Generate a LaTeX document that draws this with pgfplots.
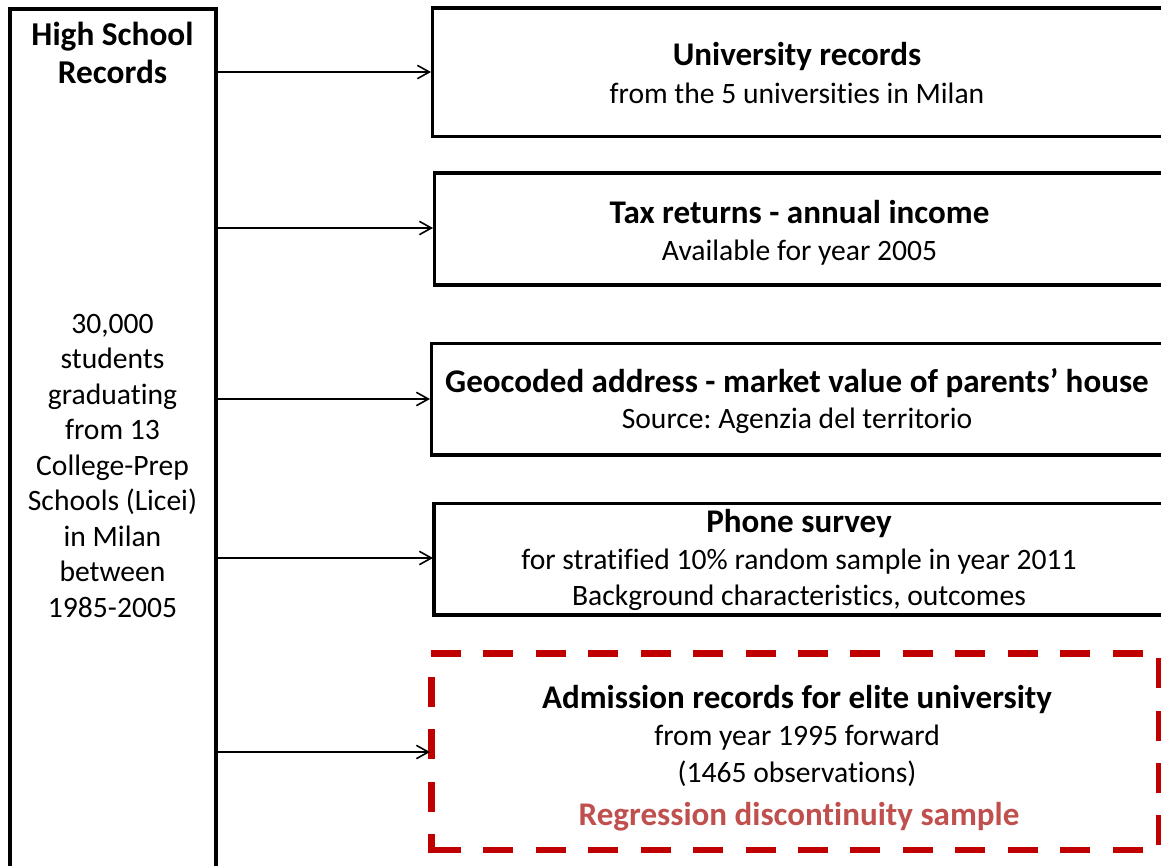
\documentclass[border=0pt]{standalone}
\usepackage{pgfplots}
\pgfplotsset{compat=1.18}
\usetikzlibrary{arrows.meta}
\usepackage{fontspec}
\setmainfont{Carlito}[RawFeature={-liga;-dlig;-clig}]
\frenchspacing
\definecolor{dred}{HTML}{C00000}
\definecolor{tred}{HTML}{C0504D}
\begin{document}
\begin{tikzpicture}
\begin{axis}[width=870.75pt, height=648.75pt, scale only axis,
  xmin=0, xmax=1161, ymin=0, ymax=865, y dir=reverse,
  hide axis, clip=true, clip mode=individual]
% left box
\addplot[black, line width=2.5pt, mark=none, line join=miter] coordinates {(10,900) (10,9) (216,9) (216,900)};
% right boxes
\addplot[black, line width=2.5pt, mark=none, line join=miter] coordinates {(1180,8) (432.5,8) (432.5,136.5) (1180,136.5)};
\addplot[black, line width=2.5pt, mark=none, line join=miter] coordinates {(1180,173) (434.5,173) (434.5,285) (1180,285)};
\addplot[black, line width=2.5pt, mark=none, line join=miter] coordinates {(1180,343.5) (431.5,343.5) (431.5,455) (1180,455)};
\addplot[black, line width=2.5pt, mark=none, line join=miter] coordinates {(1180,503.5) (434,503.5) (434,615) (1180,615)};
% dashed red box
\addplot[dred, line width=4.9pt, mark=none, line cap=rect, dash pattern=on 17.6pt off 21.75pt] coordinates {(434,653.5) (1200,653.5)};
\addplot[dred, line width=4.9pt, mark=none, line cap=rect, dash pattern=on 17.6pt off 21.75pt] coordinates {(434,850) (1200,850)};
\addplot[dred, line width=4.9pt, mark=none, line cap=rect, dash pattern=on 17.6pt off 21.75pt, dash phase=19.3pt] coordinates {(431.5,653.5) (431.5,850)};
\addplot[dred, line width=4.9pt, mark=none, line cap=rect, dash pattern=on 17.6pt off 21.75pt, dash phase=33.5pt] coordinates {(1159,653.5) (1159,850)};
% arrows
\addplot[black, line width=1.2pt, mark=none, -{Straight Barb[length=9pt,width=10pt,line width=1.2pt]}] coordinates {(217,72) (431,72)};
\addplot[black, line width=1.2pt, mark=none, -{Straight Barb[length=9pt,width=10pt,line width=1.2pt]}] coordinates {(217,228) (433,228)};
\addplot[black, line width=1.2pt, mark=none, -{Straight Barb[length=9pt,width=10pt,line width=1.2pt]}] coordinates {(217,399) (430,399)};
\addplot[black, line width=1.2pt, mark=none, -{Straight Barb[length=9pt,width=10pt,line width=1.2pt]}] coordinates {(217,558) (433,558)};
\addplot[black, line width=1.2pt, mark=none, -{Straight Barb[length=9pt,width=10pt,line width=1.2pt]}] coordinates {(217,752) (430,752)};
% texts
\tikzset{t/.style={anchor=base, inner sep=0pt, font=\fontsize{22.2}{26}\selectfont},
  b/.style={anchor=base, inner sep=0pt, font=\fontsize{24.8}{29}\selectfont\bfseries}}
\node[t, font=\fontsize{25}{30}\selectfont\bfseries] at (axis cs:112.5,45) {High School};
\node[t, font=\fontsize{25}{30}\selectfont\bfseries] at (axis cs:112.5,83) {Records};
\node[t] at (axis cs:112.5,333) {30,000};
\node[t] at (axis cs:112.5,368.5) {students};
\node[t] at (axis cs:112.5,404) {graduating};
\node[t] at (axis cs:112.5,439.5) {from 13};
\node[t] at (axis cs:112.5,475) {College-Prep};
\node[t] at (axis cs:112.5,510.5) {Schools (Licei)};
\node[t] at (axis cs:112.5,546) {in Milan};
\node[t] at (axis cs:112.5,581.5) {between};
\node[t] at (axis cs:112.5,617) {1985-2005};
\node[b] at (axis cs:797,65) {University records};
\node[t] at (axis cs:797,103) {from the 5 universities in Milan};
\node[b] at (axis cs:799.5,223) {Tax returns - annual income};
\node[t] at (axis cs:799.5,260) {Available for year 2005};
\node[b] at (axis cs:797,392) {Geocoded address - market value of parents’ house};
\node[t] at (axis cs:797,428) {Source: Agenzia del territorio};
\node[b] at (axis cs:799,532) {Phone survey};
\node[t] at (axis cs:799,569) {for stratified 10\% random sample in year 2011};
\node[t] at (axis cs:799,605) {Background characteristics, outcomes};
\node[b] at (axis cs:797,708) {Admission records for elite university};
\node[t] at (axis cs:797,745) {from year 1995 forward};
\node[t] at (axis cs:797,782) {(1465 observations)};
\node[b, text=tred] at (axis cs:799,825) {Regression discontinuity sample};
\end{axis}
\pgfresetboundingbox
\useasboundingbox (current axis.south west) rectangle (current axis.north east);
\end{tikzpicture}
\end{document}
